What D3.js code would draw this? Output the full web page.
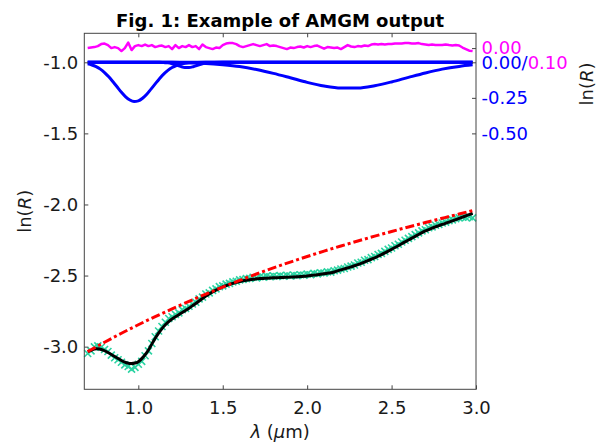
<!DOCTYPE html>
<html>
<head>
<meta charset="utf-8">
<script src="https://cdn.jsdelivr.net/npm/d3@7"></script>
<style>
  body { margin: 0; background: #fff; }
  svg { display: block; font-family: "DejaVu Sans", sans-serif; }
</style>
</head>
<body>
<script>
// wavelength grid of the spectrum samples (um)
const lamStart = 0.70, lamStep = 0.02;

// observed ln(R), one per sample
const observed = [
  -3.048,-3.030,-3.002,-2.995,-3.004,-3.020,-3.034,-3.060,-3.078,-3.092,
  -3.110,-3.128,-3.140,-3.158,-3.146,-3.124,-3.104,-3.064,-3.030,-2.978,
  -2.930,-2.890,-2.858,-2.828,-2.802,-2.790,-2.774,-2.762,-2.740,-2.732,
  -2.716,-2.700,-2.688,-2.664,-2.652,-2.630,-2.622,-2.604,-2.594,-2.578,
  -2.573,-2.560,-2.555,-2.544,-2.540,-2.530,-2.528,-2.522,-2.520,-2.512,
  -2.516,-2.508,-2.511,-2.504,-2.508,-2.502,-2.507,-2.500,-2.505,-2.498,
  -2.503,-2.496,-2.500,-2.494,-2.497,-2.490,-2.494,-2.485,-2.488,-2.480,
  -2.482,-2.474,-2.476,-2.466,-2.462,-2.454,-2.450,-2.440,-2.434,-2.426,
  -2.412,-2.406,-2.392,-2.388,-2.374,-2.366,-2.352,-2.344,-2.330,-2.316,
  -2.306,-2.290,-2.280,-2.264,-2.252,-2.238,-2.226,-2.212,-2.200,-2.186,
  -2.178,-2.164,-2.158,-2.146,-2.140,-2.130,-2.124,-2.114,-2.108,-2.100,
  -2.094,-2.090,-2.092,-2.086,-2.094
];

// AMGM model fit
const model = [
  -3.035,-3.026,-3.015,-3.013,-3.020,-3.028,-3.041,-3.055,-3.069,-3.084,
  -3.098,-3.110,-3.118,-3.120,-3.116,-3.108,-3.085,-3.058,-3.025,-2.982,
  -2.940,-2.905,-2.872,-2.845,-2.823,-2.805,-2.790,-2.775,-2.760,-2.745,
  -2.730,-2.713,-2.697,-2.679,-2.661,-2.643,-2.629,-2.615,-2.602,-2.591,
  -2.580,-2.571,-2.562,-2.555,-2.548,-2.542,-2.537,-2.532,-2.529,-2.526,
  -2.523,-2.521,-2.520,-2.518,-2.517,-2.516,-2.515,-2.514,-2.513,-2.512,
  -2.511,-2.510,-2.509,-2.507,-2.505,-2.503,-2.500,-2.497,-2.494,-2.491,
  -2.487,-2.483,-2.480,-2.475,-2.467,-2.460,-2.453,-2.446,-2.439,-2.431,
  -2.423,-2.414,-2.405,-2.395,-2.385,-2.375,-2.364,-2.353,-2.341,-2.328,
  -2.316,-2.303,-2.290,-2.276,-2.263,-2.250,-2.237,-2.224,-2.211,-2.198,
  -2.186,-2.176,-2.167,-2.157,-2.149,-2.140,-2.132,-2.124,-2.116,-2.107,
  -2.098,-2.089,-2.080,-2.071,-2.062
];

// residual (magenta, own right-hand scale)
const residual = [
  0.000,-0.004,-0.007,-0.014,-0.028,-0.032,-0.021,0.000,-0.007,0.000,
  0.021,0.000,-0.039,0.014,-0.014,-0.021,-0.014,-0.025,-0.014,-0.021,
  -0.007,-0.014,-0.018,-0.007,-0.014,0.007,-0.021,0.000,-0.014,-0.007,
  -0.021,-0.007,-0.014,0.007,-0.025,-0.007,0.000,0.007,-0.004,0.000,
  -0.021,-0.032,-0.035,-0.035,-0.028,-0.014,-0.007,-0.014,-0.021,-0.028,
  -0.021,-0.014,-0.021,-0.028,-0.014,-0.018,-0.014,-0.007,0.000,0.007,
  -0.004,0.000,-0.007,-0.011,-0.004,-0.014,-0.007,-0.014,-0.018,-0.007,
  0.004,-0.007,-0.004,0.000,-0.004,0.007,-0.007,-0.021,-0.011,-0.007,
  -0.014,-0.011,-0.018,-0.014,-0.025,-0.028,-0.025,-0.028,-0.025,-0.028,
  -0.028,-0.032,-0.032,-0.032,-0.035,-0.035,-0.032,-0.032,-0.035,-0.028,
  -0.025,-0.021,-0.025,-0.021,-0.021,-0.021,-0.025,-0.021,-0.018,-0.021,
  -0.018,-0.004,0.007,0.018,0.021
];

// continuum (red dash-dot)
const lamCont = [0.70,0.80,0.90,1.00,1.10,1.20,1.30,1.40,1.50,1.60,1.70,1.80,
                 1.90,2.00,2.10,2.20,2.30,2.40,2.50,2.60,2.70,2.80,2.90,2.98];
const continuum = [-3.035,-2.969,-2.906,-2.846,-2.789,-2.734,-2.681,-2.630,-2.581,-2.534,-2.489,-2.446,
                   -2.405,-2.366,-2.328,-2.292,-2.257,-2.223,-2.190,-2.158,-2.127,-2.097,-2.067,-2.043];

// gaussian components (blue, own right-hand scale)
const lamBand1 = [0.70,0.725,0.75,0.775,0.80,0.825,0.85,0.875,0.90,0.925,0.95,0.975,1.00,
                  1.025,1.05,1.075,1.10,1.125,1.15,1.175,1.20,1.225,1.25,1.30,1.40,2.98];
const band1 = [-0.011,-0.019,-0.031,-0.048,-0.072,-0.102,-0.137,-0.174,-0.211,-0.243,-0.265,-0.275,-0.271,
               -0.253,-0.225,-0.189,-0.152,-0.115,-0.083,-0.057,-0.037,-0.023,-0.014,-0.004,0,0];
const lamBand2 = [0.70,1.10,1.125,1.15,1.175,1.20,1.225,1.25,1.275,1.30,1.325,1.35,1.375,1.40,1.425,1.45,1.50,2.98];
const band2 = [0,0,0,-0.002,-0.004,-0.010,-0.019,-0.029,-0.037,-0.037,-0.031,-0.021,-0.012,-0.005,-0.002,-0.001,0,0];
const lamBand3 = [0.70,1.20,1.30,1.40,1.50,1.60,1.70,1.80,1.90,2.00,2.10,2.20,2.30,2.40,2.50,2.60,2.70,2.80,2.90,2.98];
const band3 = [0,0,-0.004,-0.008,-0.017,-0.030,-0.051,-0.078,-0.109,-0.141,-0.167,-0.181,-0.181,-0.165,-0.138,-0.106,-0.075,-0.048,-0.029,-0.018];
const lamZero = [0.70,2.98];
const zeroLine = [0,0];

// ticks
const xTicks = [1.0,1.5,2.0,2.5,3.0];
const yTicks = [-3.0,-2.5,-2.0,-1.5,-1.0];

const width = 604, height = 442;
const plotL = 84.3, plotR = 476, plotT = 33.3, plotB = 389.3;

const x = d3.scaleLinear().domain([0.68, 3.0]).range([plotL, plotR]);
const y = d3.scaleLinear().domain([-3.3, -0.796]).range([plotB, plotT]);

// offsets of the two inset scales on the main axis
const bandBase = -1.0;   // blue 0.00 sits at ln(R) = -1.0
const resBase = -0.9;    // magenta 0.00 sits at -0.9, 0.10 at -1.0
const bandY = v => y(bandBase + v);
const resY = v => y(resBase - v);

const svg = d3.select("body").append("svg")
    .attr("width", width)
    .attr("height", height);

const lamAt = i => lamStart + lamStep * i;
const frameColor = "#444";

// observed points
svg.append("g")
  .selectAll("path")
  .data(observed)
  .join("path")
    .attr("transform", (d, i) => `translate(${x(lamAt(i))},${y(d)})`)
    .attr("d", "M-3.5,-3.5L3.5,3.5M-3.5,3.5L3.5,-3.5")
    .attr("stroke", "#2bd3a2")
    .attr("stroke-width", 1.6)
    .attr("fill", "none");

// model
svg.append("path")
    .datum(model)
    .attr("fill", "none")
    .attr("stroke", "#000")
    .attr("stroke-width", 3)
    .attr("d", d3.line().x((d, i) => x(lamAt(i))).y(d => y(d)).curve(d3.curveBasis));

// continuum
svg.append("path")
    .datum(continuum)
    .attr("fill", "none")
    .attr("stroke", "#ff0000")
    .attr("stroke-width", 3)
    .attr("stroke-dasharray", "9,3,3,3")
    .attr("d", d3.line().x((d, i) => x(lamCont[i])).y(d => y(d)).curve(d3.curveMonotoneX));

// bands
const bands = [[lamZero, zeroLine], [lamBand3, band3], [lamBand2, band2], [lamBand1, band1]];
svg.append("g")
  .selectAll("path")
  .data(bands)
  .join("path")
    .attr("fill", "none")
    .attr("stroke", "#0000ff")
    .attr("stroke-width", 3)
    .attr("d", b => d3.line().x((d, i) => x(b[0][i])).y(d => bandY(d)).curve(d3.curveMonotoneX)(b[1]));

// residual
svg.append("path")
    .datum(residual)
    .attr("fill", "none")
    .attr("stroke", "#ff00ff")
    .attr("stroke-width", 2.5)
    .attr("stroke-linejoin", "round")
    .attr("d", d3.line().x((d, i) => x(lamAt(i))).y(d => resY(d)));

// frame and ticks
const fmt = d => d.toFixed(1);

svg.append("g")
    .attr("transform", `translate(0,${plotB})`)
    .call(d3.axisBottom(x).tickValues(xTicks).tickFormat(fmt).tickSize(-4).tickPadding(12));
svg.append("g")
    .attr("transform", `translate(0,${plotT})`)
    .call(d3.axisTop(x).tickValues(xTicks.slice(0, 4)).tickFormat("").tickSize(-4));
const yAxis = svg.append("g")
    .attr("transform", `translate(${plotL},0)`)
    .call(d3.axisLeft(y).tickValues(yTicks).tickFormat(fmt).tickSize(-4).tickPadding(6));
svg.append("g")
    .attr("transform", `translate(${plotR},0)`)
    .call(d3.axisRight(y).tickValues([resBase, bandBase, bandBase - 0.25, bandBase - 0.5]).tickFormat("").tickSize(-4));

svg.selectAll(".domain").remove();
svg.selectAll(".tick line").attr("stroke", frameColor);
svg.selectAll(".tick text").attr("fill", "#1a1a1a").attr("font-size", 18).attr("font-family", "DejaVu Sans");
yAxis.selectAll(".tick text").attr("dy", "0.34em");

svg.append("rect")
    .attr("x", plotL).attr("y", plotT)
    .attr("width", plotR - plotL).attr("height", plotB - plotT)
    .attr("fill", "none")
    .attr("stroke", frameColor)
    .attr("stroke-width", 1);

// right-hand inset labels
const labelX = plotR + 5.5;
svg.append("text")
    .attr("x", labelX).attr("y", resY(0)).attr("dy", "0.32em")
    .attr("font-size", 18).attr("fill", "#ff00ff")
    .text("0.00");
const mid = svg.append("text")
    .attr("x", labelX).attr("y", bandY(0)).attr("dy", "0.38em")
    .attr("font-size", 18);
mid.append("tspan").attr("fill", "#0000ff").text("0.00/");
mid.append("tspan").attr("fill", "#ff00ff").text("0.10");
[-0.25, -0.50].forEach(v => {
  svg.append("text")
      .attr("x", labelX).attr("y", bandY(v)).attr("dy", "0.36em")
      .attr("font-size", 18).attr("fill", "#0000ff")
      .text(v.toFixed(2));
});

// axis titles
function lnR(sel) {
  sel.append("tspan").text("ln(");
  sel.append("tspan").attr("font-style", "italic").text("R");
  sel.append("tspan").text(")");
}
svg.append("text")
    .attr("transform", `translate(31,${(plotT + plotB) / 2}) rotate(-90)`)
    .attr("text-anchor", "middle")
    .attr("font-size", 18).attr("fill", "#1a1a1a")
    .call(lnR);
svg.append("text")
    .attr("transform", `translate(593,84) rotate(-90)`)
    .attr("text-anchor", "middle")
    .attr("font-size", 18).attr("fill", "#1a1a1a")
    .call(lnR);

const xl = svg.append("text")
    .attr("x", (plotL + plotR) / 2).attr("y", 438)
    .attr("text-anchor", "middle")
    .attr("font-size", 18).attr("fill", "#1a1a1a");
xl.append("tspan").attr("font-style", "italic").text("λ");
xl.append("tspan").text(" (");
xl.append("tspan").attr("font-style", "italic").text("μ");
xl.append("tspan").text("m)");

svg.append("text")
    .attr("x", (plotL + plotR) / 2).attr("y", 26.5)
    .attr("text-anchor", "middle")
    .attr("font-size", 18).attr("font-weight", "bold").attr("fill", "#000")
    .text("Fig. 1: Example of AMGM output");
</script>
</body>
</html>
